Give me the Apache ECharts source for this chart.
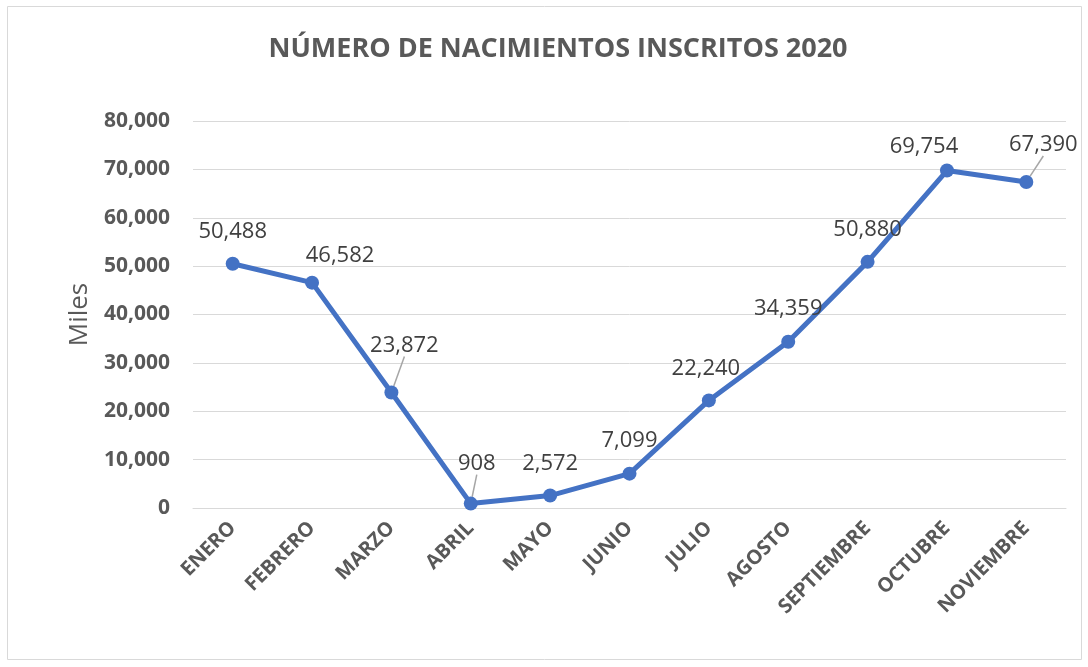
<!DOCTYPE html>
<html>
<head>
<meta charset="utf-8">
<script src="https://cdn.jsdelivr.net/npm/echarts@6/dist/echarts.min.js"></script>
<style>
  html, body { margin: 0; padding: 0; background: #fff; }
  #main { width: 1088px; height: 667px; }
</style>
</head>
<body>
<div id="main"></div>
<script>
// datos del gráfico
var meses = ['ENERO', 'FEBRERO', 'MARZO', 'ABRIL', 'MAYO', 'JUNIO', 'JULIO', 'AGOSTO', 'SEPTIEMBRE', 'OCTUBRE', 'NOVIEMBRE'];
var nacimientos = [50488, 46582, 23872, 908, 2572, 7099, 22240, 34359, 50880, 69754, 67390];

// desplazamiento de cada etiqueta (px) y si lleva línea guía
var desplazar = [[0, -32], [28, -27], [13, -47], [6, -40], [0, -32], [0, -33], [-3, -32], [0, -33], [0, -32], [-23, -24], [17, -37]];
var conGuia = [false, false, true, true, false, false, false, false, false, false, true];

var gris = '#595959';
var fmt = function (v) { return Number(v).toLocaleString('en-US'); };

var myChart = echarts.init(document.getElementById('main'));
myChart.setOption({
  animation: false,
  textStyle: { fontFamily: 'Open Sans' },
  title: {
    text: 'NÚMERO DE NACIMIENTOS INSCRITOS 2020',
    left: 553,
    top: 31,
    textAlign: 'center',
    textStyle: { color: gris, fontSize: 27, fontWeight: 'bold', fontFamily: 'Open Sans' }
  },
  graphic: [{
    type: 'rect',
    shape: { x: 7.5, y: 6.5, width: 1074, height: 653 },
    style: { fill: 'none', stroke: '#d9d9d9', lineWidth: 1 },
    silent: true
  }],
  grid: { left: 193, right: 22, top: 121, bottom: 159 },
  xAxis: {
    type: 'category',
    data: meses,
    boundaryGap: true,
    axisLine: { lineStyle: { color: '#d9d9d9' } },
    axisTick: { show: false },
    axisLabel: { rotate: 45, color: gris, fontSize: 20, fontWeight: 'bold', margin: 17, interval: 0 }
  },
  yAxis: {
    type: 'value',
    min: 0,
    max: 80000,
    interval: 10000,
    name: 'Miles',
    nameLocation: 'middle',
    nameRotate: 90,
    nameGap: 98,
    nameTextStyle: { color: gris, fontSize: 26 },
    axisLine: { show: false },
    axisTick: { show: false },
    axisLabel: { color: gris, fontSize: 21, fontWeight: 'bold', margin: 23, formatter: fmt },
    splitLine: { lineStyle: { color: '#d9d9d9', width: 1 } }
  },
  series: [{
    type: 'line',
    data: nacimientos.map(function (v, i) {
      return {
        value: v,
        label: { offset: desplazar[i] },
        labelLine: { show: conGuia[i] }
      };
    }),
    symbol: 'circle',
    symbolSize: 14,
    lineStyle: { color: '#4472C4', width: 5 },
    itemStyle: { color: '#4472C4' },
    label: {
      show: true,
      position: 'inside',
      color: '#404040',
      fontSize: 22,
      formatter: function (p) { return fmt(p.value); }
    },
    labelLine: { lineStyle: { color: '#a6a6a6', width: 1.5 } }
  }]
});
</script>
</body>
</html>
